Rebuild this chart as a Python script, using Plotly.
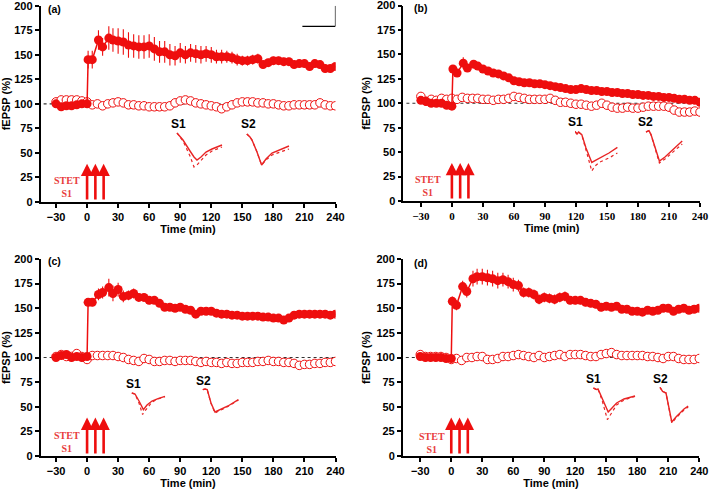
import plotly.graph_objects as go

# ---------------- data ----------------
filled_t = [-30, -25, -20, -15, -10, -5, 0, 1, 5, 11, 15, 21, 25] + list(range(30, 245, 5))
open_t = list(range(-30, 245, 5))

a_filled = [100, 97, 98, 98, 99, 100, 100,
            145, 145, 165, 158, 167, 165,
            164, 163, 160, 159, 158, 158, 159,
            156, 153, 153, 150, 149, 152,
            150, 152, 151, 150, 151, 150,
            148, 148, 148, 147, 145, 144,
            144, 145, 146, 140, 142, 144,
            144, 143, 143, 140, 141, 141,
            138, 141, 140, 136, 136, 138]
a_err = [2, 2, 2, 2, 2, 2, 2,
         9, 9, 10, 9, 12, 12,
         13, 13, 13, 12, 12, 12, 12,
         12, 11, 11, 11, 10, 10,
         9, 9, 9, 9, 8, 8,
         7, 7, 6, 6, 6, 5,
         5, 5, 5, 4, 4, 4,
         4, 4, 4, 4, 4, 4,
         4, 4, 4, 4, 4, 4]
a_open = [102, 104, 104, 104, 104, 103, 102,
          99, 100, 98, 100, 101, 102,
          101, 99, 99, 98, 98, 97,
          97, 97, 97, 98, 101, 103,
          104, 103, 101, 100, 99, 98,
          97, 95, 97, 99, 101, 102,
          102, 102, 101, 101, 100, 100,
          99, 98, 98, 99, 99, 99,
          99, 99, 101, 99, 98, 98]

b_filled = [103, 102, 100, 100, 100, 98, 97,
            135, 131, 141, 136, 140, 138,
            135, 133, 131, 130, 128, 126, 123,
            122, 121, 121, 120, 120, 119,
            118, 117, 116, 115, 114, 114,
            115, 114, 113, 113, 112, 112,
            111, 111, 110, 110, 109, 109,
            108, 108, 107, 107, 106, 106,
            105, 104, 104, 103, 103, 101]
b_err = [2, 2, 2, 2, 2, 2, 2,
         3, 3, 6, 3, 3, 3,
         3, 3, 3, 3, 3, 3, 3,
         3, 3, 3, 3, 3, 3,
         3, 3, 3, 3, 3, 3,
         3, 3, 3, 3, 3, 3,
         3, 3, 3, 3, 3, 3,
         3, 3, 3, 3, 3, 3,
         3, 3, 3, 3, 3, 3]
b_open = [107, 102, 104, 103, 105, 104, 105,
          104, 106, 105, 105, 105, 104,
          104, 103, 104, 104, 105, 107,
          106, 105, 104, 104, 104, 104,
          105, 103, 101, 101, 100, 99,
          99, 98, 97, 98, 100, 98,
          96, 95, 95, 96, 95, 95,
          96, 97, 97, 97, 97, 96,
          93, 91, 91, 91, 92, 91]

c_filled = [100, 102, 103, 100, 101, 100, 101,
            156, 156, 164, 166, 171, 165,
            169, 162, 163, 165, 161, 161, 158,
            158, 155, 151, 151, 150, 151,
            149, 148, 144, 147, 147, 147,
            145, 144, 144, 143, 143, 142,
            142, 142, 142, 141, 141, 140,
            140, 138, 140, 143, 144, 144,
            144, 144, 144, 144, 143, 144]
c_err = [2, 2, 2, 2, 2, 2, 2,
         4, 4, 6, 6, 9, 8,
         7, 6, 5, 5, 4, 4, 4,
         3, 3, 3, 3, 3, 3,
         3, 3, 3, 3, 3, 3,
         3, 3, 3, 3, 3, 3,
         3, 3, 3, 3, 3, 3,
         3, 3, 3, 3, 3, 3,
         3, 3, 3, 3, 3, 3]
c_open = [101, 103, 101, 101, 104, 101, 98,
          102, 102, 102, 102, 102, 101,
          100, 98, 97, 96, 99, 98,
          96, 96, 97, 97, 96, 97,
          97, 97, 96, 95, 96, 95,
          95, 94, 95, 94, 94, 95,
          95, 95, 96, 96, 97, 96,
          96, 95, 95, 94, 92, 93,
          93, 94, 94, 95, 95, 96]

d_filled = [101, 100, 100, 100, 100, 99, 99,
            157, 153, 172, 167, 180, 182,
            182, 181, 180, 178, 179, 177, 174,
            173, 166, 166, 164, 159, 161,
            160, 159, 161, 162, 158, 158,
            158, 156, 155, 154, 151, 152,
            151, 152, 149, 149, 147, 147,
            146, 148, 147, 148, 150, 150,
            147, 149, 150, 148, 149, 150]
d_err = [2, 2, 2, 2, 2, 2, 2,
         5, 5, 6, 6, 8, 8,
         8, 8, 8, 8, 7, 7, 7,
         6, 5, 5, 5, 5, 5,
         5, 5, 5, 5, 4, 4,
         4, 4, 4, 4, 4, 4,
         3, 3, 3, 3, 3, 3,
         3, 3, 3, 3, 3, 3,
         3, 3, 3, 3, 3, 3]
d_open = [103, 101, 101, 101, 101, 100, 98,
          99, 97, 100, 100, 101, 101,
          98, 98, 99, 101, 101, 102,
          103, 102, 101, 100, 102, 100,
          101, 102, 103, 101, 103, 103,
          103, 102, 101, 101, 103, 104,
          105, 103, 102, 102, 102, 102,
          102, 101, 101, 100, 99, 101,
          101, 99, 98, 98, 98, 99]

baseline_level = 100
stet_times = [0, 8, 16]
x_ticks = [-30, 0, 30, 60, 90, 120, 150, 180, 210, 240]
x_ticktext = ["\u221230", "0", "30", "60", "90", "120", "150", "180", "210", "240"]
y_ticks = [0, 25, 50, 75, 100, 125, 150, 175, 200]
panel_labels = ["(a)", "(b)", "(c)", "(d)"]

# example fEPSP traces (time in ms, voltage in mV); solid & dotted sweeps
a_s1_t = [0.25, 1.0, 1.75, 3.5, 4.5, 5.25, 6.25, 7.5, 9.0, 11.5]
a_s1_solid = [-0.10, -0.30, -0.45, -1.00, -1.30, -1.45, -1.30, -1.05, -0.90, -0.70]
a_s1_dot = [-0.10, -0.30, -0.50, -1.25, -1.80, -1.70, -1.50, -1.20, -1.00, -0.80]
a_s2_t = [0.2, 1.0, 1.5, 2.75, 3.9, 5.0, 6.5, 8.5, 10.75]
a_s2_solid = [-0.15, -0.30, -0.45, -1.05, -1.70, -1.40, -1.10, -0.95, -0.75]
a_s2_dot = [-0.15, -0.30, -0.45, -1.05, -1.70, -1.45, -1.20, -1.05, -0.90]

b_s1_t = [0.0, 0.5, 0.9, 1.7, 2.75, 4.2, 5.0, 6.25, 8.5, 10.6]
b_s1_solid = [-0.12, -0.25, -0.15, -0.28, -0.95, -1.67, -1.58, -1.45, -1.20, -0.92]
b_s1_dot = [-0.12, -0.25, -0.15, -0.30, -1.05, -2.10, -1.85, -1.65, -1.45, -1.20]
b_s2_t = [0.25, 1.0, 1.5, 2.5, 3.6, 5.0, 7.0, 9.3]
b_s2_solid = [-0.15, -0.08, -0.28, -0.90, -1.60, -1.40, -1.05, -0.60]
b_s2_dot = [-0.15, -0.08, -0.28, -0.95, -1.70, -1.50, -1.15, -0.75]

c_s1_t = [0.2, 1.0, 2.0, 2.9, 3.1, 4.0, 5.25, 6.75, 8.5]
c_s1_solid = [-0.10, -0.15, -0.50, -0.88, -0.93, -0.70, -0.50, -0.38, -0.27]
c_s1_dot = [-0.10, -0.15, -0.60, -1.18, -1.10, -0.85, -0.55, -0.40, -0.28]
c_s2_t = [0.2, 0.75, 1.3, 1.6, 2.25, 3.25, 4.5, 6.5, 9.1]
c_s2_solid = [-0.08, -0.05, -0.08, -0.30, -0.75, -1.20, -1.10, -0.90, -0.58]
c_s2_dot = [-0.08, -0.05, -0.08, -0.30, -0.77, -1.25, -1.12, -0.92, -0.60]

d_s1_t = [0.1, 0.9, 1.25, 2.25, 3.6, 3.8, 4.75, 5.9, 7.75, 10.5]
d_s1_solid = [-0.10, -0.18, -0.15, -0.60, -1.25, -1.30, -1.10, -0.85, -0.65, -0.50]
d_s1_dot = [-0.10, -0.18, -0.15, -0.70, -1.68, -1.62, -1.35, -0.95, -0.70, -0.52]
d_s2_t = [0.25, 0.9, 1.75, 2.5, 3.2, 4.25, 5.25, 6.25, 7.3]
d_s2_solid = [-0.07, -0.27, -0.35, -1.05, -1.80, -1.55, -1.35, -1.15, -1.00]
d_s2_dot = [-0.07, -0.27, -0.35, -1.08, -1.85, -1.60, -1.40, -1.20, -1.05]

# ---------------- layout geometry (pixels) ----------------
W, H = 709, 492
RED = "rgb(238,14,14)"
TRACE_RED = "rgb(232,36,36)"
SANS = "Liberation Sans, Arial, sans-serif"
SERIF = "Liberation Serif, Times New Roman, serif"

panels = [
    dict(filled=a_filled, err=a_err, opn=a_open, xpx=(40.5, 335.5), ypx=(202, 5.7), xr=[-45, 240],
         tickfont=SANS, label_x=0.019, label_y=0.985, stet=(-19.5, 15)),
    dict(filled=b_filled, err=b_err, opn=b_open, xpx=(403.3, 700.0), ypx=(201, 5.5), xr=[-47, 240],
         tickfont=SERIF, label_x=0.028, label_y=0.985, stet=(-23.5, 15)),
    dict(filled=c_filled, err=c_err, opn=c_open, xpx=(40.5, 335.5), ypx=(456, 259), xr=[-45, 240],
         tickfont=SANS, label_x=0.018, label_y=0.99, stet=(-19, 14.5)),
    dict(filled=d_filled, err=d_err, opn=d_open, xpx=(402.7, 699.3), ypx=(456, 259), xr=[-47, 240],
         tickfont=SANS, label_x=0.03, label_y=0.98, stet=(-19, 13.5)),
]

insets = [
    (0, "S1", a_s1_t, a_s1_solid, a_s1_dot, (176, 131), 0.5),
    (0, "S2", a_s2_t, a_s2_solid, a_s2_dot, (246, 131), 0.5),
    (1, "S1", b_s1_t, b_s1_solid, b_s1_dot, (575, 129), 0.2),
    (1, "S2", b_s2_t, b_s2_solid, b_s2_dot, (645, 129), 0.2),
    (2, "S1", c_s1_t, c_s1_solid, c_s1_dot, (131, 391), 0.5),
    (2, "S2", c_s2_t, c_s2_solid, c_s2_dot, (202, 388), 0.3),
    (3, "S1", d_s1_t, d_s1_solid, d_s1_dot, (593, 386), 0.1),
    (3, "S2", d_s2_t, d_s2_solid, d_s2_dot, (659, 386), 0.3),
]
INSET_W, INSET_H = 48, 44          # pixels
INSET_XR, INSET_YR = [0, 12], [-2.2, 0]


def fx(p):
    return min(1.0, max(0.0, p / W))


def fy(p):
    return min(1.0, max(0.0, 1 - p / H))


def axname(n, kind):
    return kind if n == 1 else f"{kind}{n}"


fig = go.Figure()
layout = dict(width=W, height=H, margin=dict(l=0, r=0, t=0, b=0),
              paper_bgcolor="white", plot_bgcolor="white", showlegend=False,
              font=dict(family=SANS, size=11, color="black"))
annotations = []
shapes = []

for i, p in enumerate(panels):
    n = i + 1
    xa, ya = axname(n, "x"), axname(n, "y")
    # reference dotted line at 100 %
    fig.add_trace(go.Scatter(x=[p["xr"][0] + 3, 240], y=[baseline_level, baseline_level],
                             mode="lines", line=dict(color="#333", width=1.2, dash="dot"),
                             xaxis=xa, yaxis=ya, hoverinfo="skip"))
    # control pathway (open circles)
    fig.add_trace(go.Scatter(x=open_t, y=p["opn"], mode="markers",
                             marker=dict(symbol="circle", size=8.5, color="white",
                                         line=dict(color=RED, width=1)),
                             xaxis=xa, yaxis=ya))
    # potentiated pathway (filled circles)
    fig.add_trace(go.Scatter(x=filled_t, y=p["filled"], mode="lines+markers",
                             line=dict(color=RED, width=1.5),
                             marker=dict(symbol="circle", size=9, color=RED),
                             error_y=dict(type="data", array=p["err"], visible=True,
                                          color=RED, thickness=1.1, width=0),
                             xaxis=xa, yaxis=ya))
    x0, x1 = p["xpx"]
    yb, yt = p["ypx"]
    layout[axname(n, "xaxis")] = dict(
        domain=[fx(x0), fx(x1)], range=p["xr"], anchor=ya, showline=True, linecolor="black",
        linewidth=1.5, ticks="outside", ticklen=4, tickwidth=1.5, tickcolor="black",
        tickvals=x_ticks, ticktext=x_ticktext, showgrid=False, zeroline=False,
        ticklabeloverflow="allow",
        tickfont=dict(family=p["tickfont"], size=11, weight="bold"),
        title=dict(text="Time (min)", font=dict(size=11, weight="bold"), standoff=2),
        automargin=False, fixedrange=True)
    layout[axname(n, "yaxis")] = dict(
        domain=[fy(yb), fy(yt)], range=[0, 200], anchor=xa, showline=True, linecolor="black",
        linewidth=1.5, ticks="outside", ticklen=4, tickwidth=1.5, tickcolor="black",
        tickvals=y_ticks, showgrid=False, zeroline=False, ticklabeloverflow="allow",
        tickfont=dict(size=11, weight="bold"),
        title=dict(text="fEPSP (%)", font=dict(size=11, weight="bold"), standoff=4),
        automargin=False, fixedrange=True)
    # panel label
    annotations.append(dict(text=panel_labels[i], xref=f"{xa} domain", yref=f"{ya} domain",
                            x=p["label_x"], y=p["label_y"], xanchor="left", yanchor="middle",
                            showarrow=False, font=dict(size=10.5, weight="bold")))
    # STET arrows
    for t in stet_times:
        annotations.append(dict(x=t, y=39, ax=t, ay=1, xref=xa, yref=ya, axref=xa, ayref=ya,
                                text="", showarrow=True, arrowhead=2, arrowsize=0.95,
                                arrowwidth=2.6, arrowcolor=RED))
    sx, sy = p["stet"]
    annotations.append(dict(text="STET<br>S1", x=sx, y=sy, xref=xa, yref=ya, showarrow=False,
                            xanchor="center", yanchor="middle", align="center",
                            font=dict(family=SERIF, size=10, color="rgb(232,60,60)", weight="bold")))

# scale bar in panel (a)
shapes.append(dict(type="line", xref="x", yref="y", x0=208, x1=240, y0=179, y1=179,
                   line=dict(color="black", width=1.2)))
shapes.append(dict(type="line", xref="x", yref="y", x0=240, x1=240, y0=179, y1=200,
                   line=dict(color="black", width=1.2)))

# inset example traces
for k, (pi, lab, t, solid, dot, (left, top), lab_x) in enumerate(insets):
    n = 5 + k
    xa, ya = axname(n, "x"), axname(n, "y")
    fig.add_trace(go.Scatter(x=t, y=dot, mode="lines", line=dict(color=TRACE_RED, width=1.2, dash="dot"),
                             xaxis=xa, yaxis=ya, hoverinfo="skip"))
    fig.add_trace(go.Scatter(x=t, y=solid, mode="lines", line=dict(color=TRACE_RED, width=1.4),
                             xaxis=xa, yaxis=ya, hoverinfo="skip"))
    layout[axname(n, "xaxis")] = dict(domain=[fx(left), fx(left + INSET_W)], range=INSET_XR,
                                      anchor=ya, visible=False, fixedrange=True)
    layout[axname(n, "yaxis")] = dict(domain=[fy(top + INSET_H), fy(top)], range=INSET_YR,
                                      anchor=xa, visible=False, fixedrange=True)
    annotations.append(dict(text=lab, xref=xa, yref=f"{ya} domain", x=lab_x, y=1 + 7 / INSET_H,
                            xanchor="center", yanchor="middle", showarrow=False,
                            font=dict(size=12, weight="bold")))

layout["annotations"] = annotations
layout["shapes"] = shapes
fig.update_layout(**layout)
fig.write_html("out.html", config={"displayModeBar": False},
               post_script="document.body.style.margin='0';document.body.style.overflow='hidden';")
